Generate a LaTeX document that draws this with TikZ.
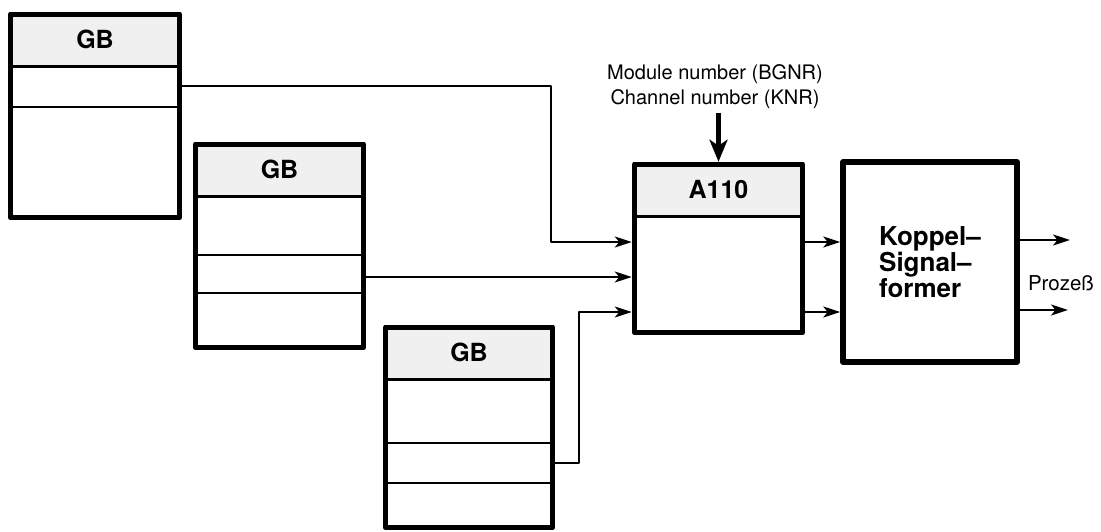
\documentclass[tikz,border=0pt]{standalone}
\usepackage{fontspec}
\setmainfont{TeX Gyre Heros}
\usetikzlibrary{positioning}
\usetikzlibrary{arrows.meta}
\usetikzlibrary{backgrounds}

\begin{document}
\begin{tikzpicture}
          [x=1pt, y=-1pt, line join=round,
           frame/.style={draw, line width=5.5pt, inner sep=0pt},
           head/.style={draw, fill=black!6, line width=3.2pt, inner sep=0pt, anchor=north,
                        minimum height=53, font=\fontsize{25}{28}\selectfont\bfseries},
           rowline/.style={line width=2.2pt},
           wire/.style={line width=2.2pt, -{Stealth[length=17pt, width=11pt, inset=4.5pt]}},
           feed/.style={line width=4.5pt, -{Stealth[length=22pt, width=18pt, inset=6pt]}},
           note/.style={font=\fontsize{20}{25}\selectfont, align=center}]

          \useasboundingbox (0,0) rectangle (1101,532);

          % the three GB blocks
          \node (gb1) [frame, minimum width=169, minimum height=203] at (95,116) {};
          \node (gb2) [frame, minimum width=168, minimum height=203] at (279.5,246) {};
          \node (gb3) [frame, minimum width=167, minimum height=200] at (469,427.5) {};

          % A110 and the coupling block
          \node (a110) [frame, minimum width=168, minimum height=168] at (718.5,248.5) {};
          \node (kop) [frame, minimum width=174, minimum height=200, align=left,
                       font=\fontsize{26}{23.5}\selectfont\bfseries] at (930,262)
                {Koppel--\\Signal--\\former};

          \begin{scope}[on background layer]
            \node (gb1h) [head, minimum width=169] at (gb1.north) {GB};
            \node (gb2h) [head, minimum width=168] at (gb2.north) {GB};
            \node (gb3h) [head, minimum width=167] at (gb3.north) {GB};
            \node (a110h) [head, minimum width=168] at (a110.north) {A110};
          \end{scope}

          \draw[rowline] (gb1.west |- 0,107) -- (gb1.east |- 0,107);
          \draw[rowline] (gb2.west |- 0,255) -- (gb2.east |- 0,255);
          \draw[rowline] (gb2.west |- 0,293) -- (gb2.east |- 0,293);
          \draw[rowline] (gb3.west |- 0,443) -- (gb3.east |- 0,443);
          \draw[rowline] (gb3.west |- 0,483) -- (gb3.east |- 0,483);

          \node (bgnr) [note] at (715,87) {Module number (BGNR)\\Channel number (KNR)};
          \node (proz) [font=\fontsize{20.5}{24}\selectfont] at (1061,283) {Prozeß};

          \coordinate (gb1o) at (gb1.east |- 0,86);
          \coordinate (gb2o) at (gb2.east |- 0,277);
          \coordinate (gb3o) at (gb3.east |- 0,463);
          \coordinate (a110i1) at (a110.west |- 0,242);
          \coordinate (a110i2) at (a110.west |- 0,277);
          \coordinate (a110i3) at (a110.west |- 0,312);
          \coordinate (out1) at (1070,240);
          \coordinate (out2) at (1068,310);

          \draw[wire] (gb1o) -| (551,242) -- (a110i1);
          \draw[wire] (gb2o) -- (a110i2);
          \draw[wire] (gb3o) -| (579,312) -- (a110i3);

          \draw[wire] (a110.east |- 0,242) -- (kop.west |- 0,242);
          \draw[wire] (a110.east |- 0,312) -- (kop.west |- 0,312);

          \draw[wire] (kop.east |- out1) -- (out1);
          \draw[wire] (kop.east |- out2) -- (out2);

          \draw[feed] (bgnr.south -| a110.north) -- (a110.north);

        \end{tikzpicture}
\end{document}
